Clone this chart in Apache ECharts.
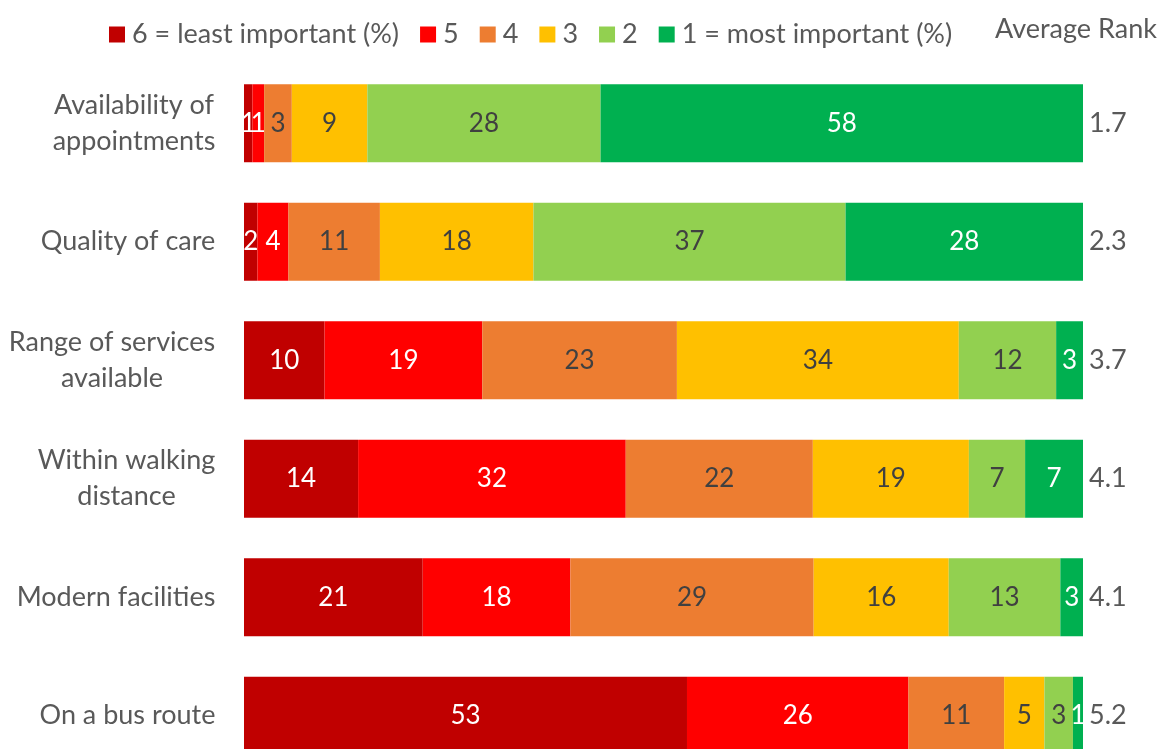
<!DOCTYPE html>
<html>
<head>
<meta charset="utf-8">
<script src="https://cdn.jsdelivr.net/npm/echarts@6/dist/echarts.min.js"></script>
<style>
  html, body { margin: 0; padding: 0; background: #fff; overflow: hidden; }
  /* the last row runs off the bottom of the picture, so the chart is taller than the window */
  #chart { width: 1161px; height: 775px; }
</style>
</head>
<body>
<div id="chart"></div>
<script>
// categories, top to bottom
var factors = [
  'Availability of\nappointments',
  'Quality of care',
  'Range of services\navailable',
  'Within walking\ndistance',
  'Modern facilities',
  'On a bus route'
];
var averageRank = ['1.7', '2.3', '3.7', '4.1', '4.1', '5.2'];

// share of respondents (%) per rank
var rank6 = [1.0, 1.6, 9.6, 13.6, 21.3, 52.8];
var rank5 = [1.4, 3.7, 18.8, 31.9, 17.6, 26.4];
var rank4 = [3.3, 10.9, 23.2, 22.3, 29.0, 11.4];
var rank3 = [9.0, 18.3, 33.6, 18.6, 16.1, 4.8];
var rank2 = [27.8, 37.2, 11.6, 6.7, 13.3, 3.4];
var rank1 = [57.5, 28.3, 3.2, 6.9, 2.7, 1.2];

var seriesNames = ['6 = least important (%)', '5', '4', '3', '2', '1 = most important (%)'];
var seriesData = [rank6, rank5, rank4, rank3, rank2, rank1];
var colors = ['#C00000', '#FF0000', '#ED7D31', '#FFC000', '#92D050', '#00B050'];
var labelColors = ['#fff', '#fff', '#404040', '#404040', '#404040', '#fff'];

var FONT = 'Lato';
var AXIS_SIZE = 27;

// width of the longest line, so the lines of a label are centred on each other
var ctx = document.createElement('canvas').getContext('2d');
ctx.font = AXIS_SIZE + 'px ' + FONT;
var rich = {};
factors.forEach(function (f, i) {
  var w = Math.max.apply(null, f.split('\n').map(function (l) { return ctx.measureText(l).width; }));
  rich['c' + i] = { width: Math.ceil(w) + 1, align: 'center', fontSize: AXIS_SIZE, lineHeight: 36, color: '#595959', fontFamily: FONT };
});

var series = seriesNames.map(function (name, i) {
  return {
    name: name,
    type: 'bar',
    stack: 'total',
    barWidth: 78,
    data: seriesData[i],
    itemStyle: { color: colors[i] },
    label: {
      show: true,
      position: 'inside',
      color: labelColors[i],
      fontSize: 26,
      fontFamily: FONT,
      formatter: function (p) { return Math.round(p.value); }
    }
  };
});

var myChart = echarts.init(document.getElementById('chart'));
myChart.setOption({
  animation: false,
  textStyle: { fontFamily: FONT },
  color: colors,
  legend: {
    data: seriesNames,
    left: 104,
    top: 16,
    itemWidth: 16,
    itemHeight: 16,
    itemGap: 21,
    icon: 'rect',
    textStyle: { fontSize: AXIS_SIZE, color: '#595959', fontFamily: FONT, padding: [0, 0, 0, 2] }
  },
  graphic: [{
    type: 'text',
    left: 995,
    top: 16,
    style: { text: 'Average Rank', fontSize: AXIS_SIZE, fill: '#595959', fontFamily: FONT }
  }],
  grid: { left: 244, right: 78, top: 64, bottom: 0 },
  xAxis: { type: 'value', min: 0, max: 100, show: false },
  yAxis: [
    {
      type: 'category',
      inverse: true,
      data: factors,
      axisLine: { show: false },
      axisTick: { show: false },
      axisLabel: {
        margin: 28,
        formatter: function (v, idx) {
          return v.split('\n').map(function (l) { return '{c' + idx + '|' + l + '}'; }).join('\n');
        },
        rich: rich
      }
    },
    {
      type: 'category',
      inverse: true,
      position: 'right',
      data: averageRank,
      axisLine: { show: false },
      axisTick: { show: false },
      axisLabel: { margin: 6, fontSize: AXIS_SIZE, color: '#595959', fontFamily: FONT }
    }
  ],
  series: series
});
</script>
</body>
</html>
